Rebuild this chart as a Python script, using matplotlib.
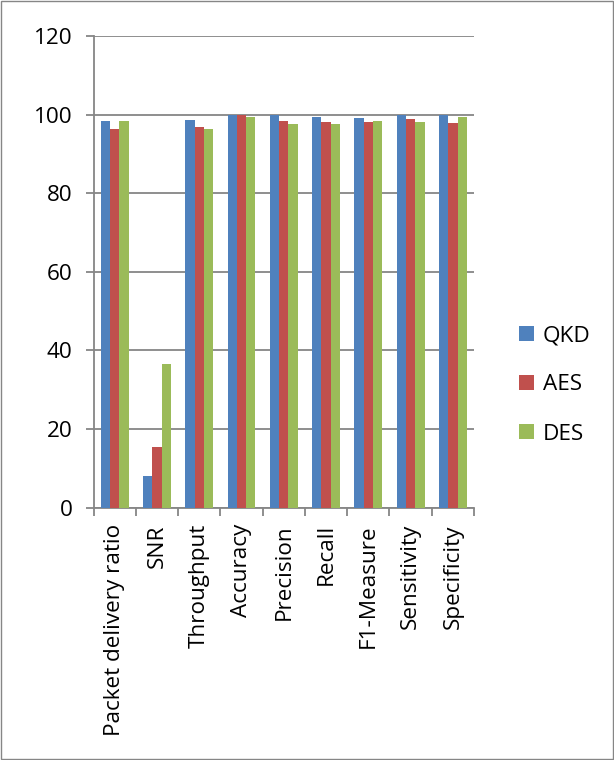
import matplotlib
matplotlib.use("Agg")
import matplotlib.pyplot as plt
import numpy as np
from matplotlib.patches import Rectangle

categories = ["Packet delivery ratio", "SNR", "Throughput", "Accuracy", "Precision",
              "Recall", "F1-Measure", "Sensitivity", "Specificity"]
qkd = [98.4, 8.0, 98.7, 99.9, 99.8, 99.5, 99.2, 99.9, 99.8]
aes = [96.4, 15.5, 96.8, 99.9, 98.4, 98.1, 98.1, 98.8, 97.9]
des = [98.4, 36.6, 96.4, 99.5, 97.5, 97.6, 98.4, 98.1, 99.5]
series_names = ["QKD", "AES", "DES"]
colors = ["#4F81BD", "#C0504D", "#9BBB59"]

plt.rcParams['font.family'] = ['Open Sans', 'DejaVu Sans']
fig = plt.figure(figsize=(6.14, 7.6), dpi=100)
W, H = 614, 760
ax = fig.add_axes([93.5 / W, 1 - 507.5 / H, (474 - 93.5) / W, (507.5 - 36) / H])

fs = 16.2
x = np.arange(len(categories))
bw = 0.22
for i, (vals, name, c) in enumerate(zip([qkd, aes, des], series_names, colors)):
    ax.bar(x + (i - 1) * bw, vals, width=bw, color=c, label=name, zorder=3)

ax.set_xlim(-0.5, len(categories) - 0.5)
ax.set_ylim(0, 120)
ax.set_yticks(range(0, 121, 20))
ax.yaxis.grid(True, color="#868686", linewidth=1.3, zorder=0)
for s in ["top", "right"]:
    ax.spines[s].set_visible(False)
for s in ["left", "bottom"]:
    ax.spines[s].set_color("#868686")
    ax.spines[s].set_linewidth(1.3)
ax.set_xticks(np.arange(-0.5, len(categories), 1))
ax.set_xticklabels([])
ax.set_xticks(x, minor=True)
ax.set_xticklabels(categories, minor=True, rotation=90, fontsize=fs)
ax.tick_params(axis="x", which="minor", length=0, pad=12)
ax.tick_params(axis="x", which="major", length=6, color="#868686", width=1.3)
ax.tick_params(axis="y", length=6, color="#868686", width=1.3, labelsize=fs, pad=9)

ax.legend(loc="center left", bbox_to_anchor=(499 / W, 1 - 385 / H), bbox_transform=fig.transFigure,
          frameon=False, fontsize=fs, handlelength=0.65, handleheight=0.65,
          labelspacing=1.25, handletextpad=0.4)

fig.patches.append(Rectangle((1 / W, 1 / H), 1 - 2 / W, 1 - 2 / H, transform=fig.transFigure,
                             fill=False, edgecolor="#868686", linewidth=1))
fig.savefig("out.png", dpi=100)
